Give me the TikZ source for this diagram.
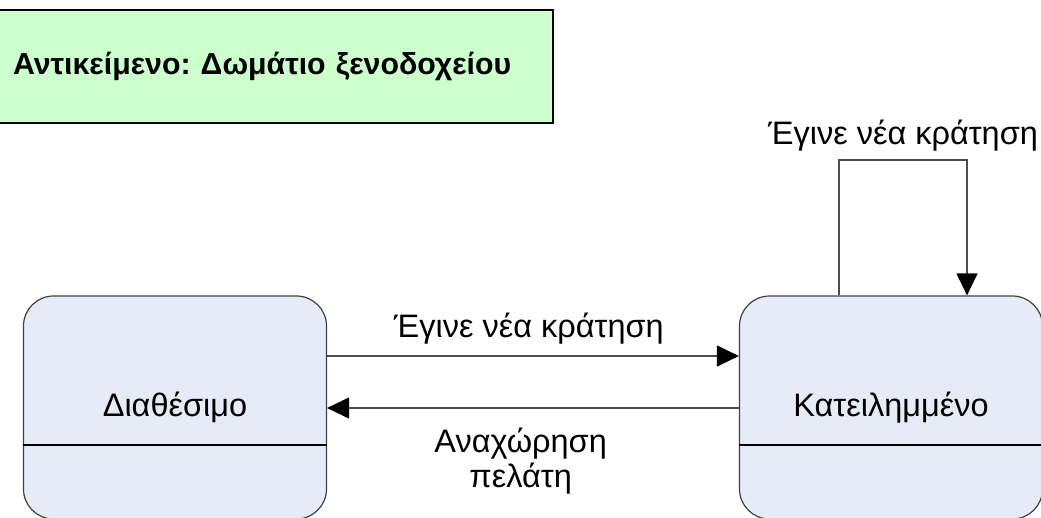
\documentclass[tikz,border=0pt]{standalone}
\usepackage{fontspec}
\setmainfont{Liberation Sans}
\usetikzlibrary{arrows.meta}
\definecolor{titlegreen}{RGB}{204,255,204}
\definecolor{statefill}{RGB}{230,236,247}
\frenchspacing

\begin{document}
\begin{tikzpicture}[x=1pt, y=-1pt, line width=1.2pt, >={Triangle[length=22pt,width=21pt,color=black]}, title node/.style={rectangle, draw, fill=titlegreen, text width=526pt, align=left, inner xsep=14pt, minimum height=113pt, font=\fontsize{30.3}{34}\selectfont\bfseries}, state node/.style={rectangle, rounded corners=30pt, draw=black!75, fill=statefill, minimum width=303pt, minimum height=223pt, font=\fontsize{32.5}{36}\selectfont}]
	\clip (0,0) rectangle (1041,517);
	\node[title node] (title) at (276,66.5) {Αντικείμενο: Δωμάτιο ξενοδοχείου};
	\node[state node] (free) at (175,407.5) {Διαθέσιμο};
	\node[state node] (busy) at (891,407.5) {Κατειλημμένο};
	\draw (free.west |- 0,445) -- (free.east |- 0,445);
	\draw (busy.west |- 0,445) -- (busy.east |- 0,445);
	\path[draw=black!70, every node/.style={font=\fontsize{32.5}{35}\selectfont, inner sep=2pt}]
		(free.east |- 0,356) edge[->] node [pos=0.49, above=9pt] {Έγινε νέα κράτηση} (busy.west |- 0,356)
		(busy.west |- 0,408) edge[->] node [pos=0.53, below=17pt, align=center] {Αναχώρηση\\πελάτη} (free.east |- 0,408);
	\draw[->, draw=black!70] (busy.north -| 839,0) -- (839,160) -- node [above=6pt, inner sep=2pt, font=\fontsize{32.5}{35}\selectfont] {Έγινε νέα κράτηση} (967,160) -- (busy.north -| 967,0);
\end{tikzpicture}
\end{document}
